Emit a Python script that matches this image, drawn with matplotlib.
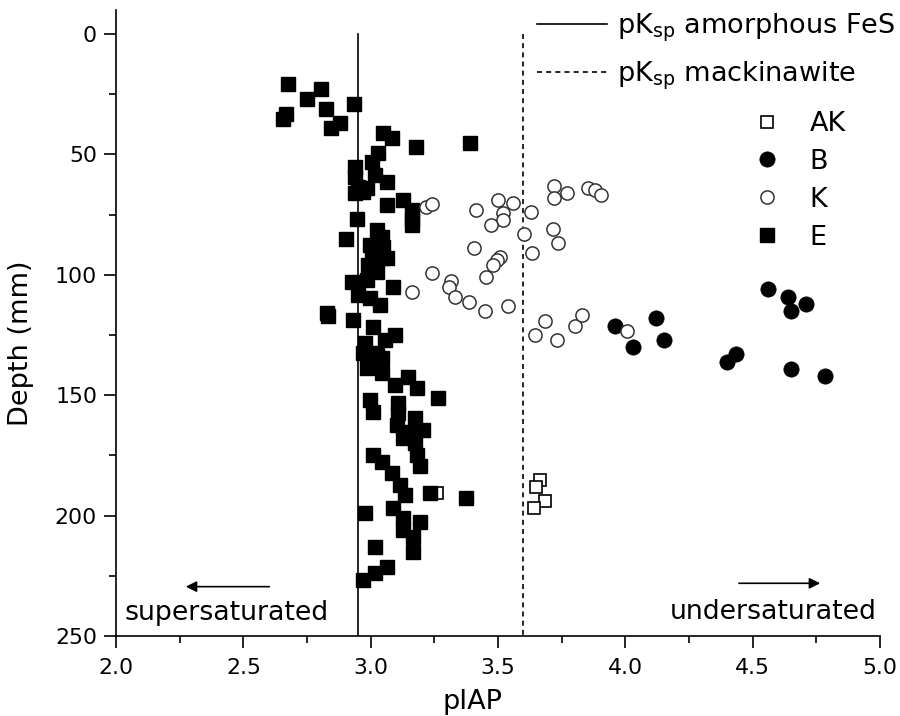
import matplotlib
matplotlib.use("Agg")
import matplotlib.pyplot as plt
from matplotlib.lines import Line2D
from matplotlib.ticker import MultipleLocator

plt.rcParams['font.family'] = ['DejaVu Sans']
plt.rcParams['mathtext.default'] = 'regular'

# solubility products (pK_sp)
pk_amorphous = 2.95
pk_mackinawite = 3.60

# AK
ak_x = [3.665, 3.649, 3.685, 3.641, 3.262]
ak_y = [185.2, 188.0, 194.0, 197.0, 190.8]

# B
b_x = [4.56, 4.64, 4.71, 4.65, 3.96, 4.03, 4.12, 4.15, 4.40, 4.435, 4.65, 4.785]
b_y = [105.9, 109.2, 112.0, 115.1, 121.2, 130.0, 118.0, 127.1, 136.2, 132.9, 139.1, 142.0]

# K
k_x = [3.217, 3.242, 3.415, 3.501, 3.560, 3.521, 3.521, 3.472, 3.630, 3.602,
       3.632, 3.720, 3.720, 3.772, 3.855, 3.881, 3.905, 3.717, 3.737, 3.405,
       3.508, 3.495, 3.481, 3.452, 3.240, 3.164, 3.314, 3.309, 3.331, 3.387,
       3.449, 3.540, 3.645, 3.685, 3.730, 3.802, 3.828, 4.005]
k_y = [71.9, 70.7, 73.1, 68.9, 70.1, 74.5, 77.2, 79.3, 74.1, 83.1,
       90.8, 63.0, 68.2, 66.2, 63.8, 64.8, 67.0, 81.0, 86.9, 89.0,
       92.5, 93.9, 95.9, 100.8, 99.1, 107.0, 102.6, 104.9, 109.1, 111.2,
       115.0, 113.0, 125.0, 119.1, 127.1, 121.1, 116.7, 123.3]

# E
e_x = [2.677, 2.805, 2.750, 2.825, 2.668, 2.655, 2.880, 2.843, 2.936,
       3.047, 3.083, 3.178, 3.390,
       3.030, 3.004, 2.938, 2.938, 3.017, 3.063, 2.984, 2.952, 2.938, 2.971,
       3.063, 3.128, 3.161, 3.161, 3.161, 2.945,
       2.903, 3.023, 3.043, 2.997, 3.004, 3.050, 3.043, 2.991, 3.023, 3.063,
       2.925, 2.984, 3.086, 2.952, 2.997, 3.037, 2.827, 2.834, 2.932,
       3.011, 3.095, 2.978, 3.056, 3.023, 2.971, 3.043, 2.984, 3.043, 3.148,
       3.095, 3.180, 3.266, 2.997, 3.011, 3.108, 3.108, 3.102, 3.174, 3.148,
       3.207, 3.128, 3.174, 3.011, 3.043, 3.180, 3.194, 3.083, 3.115, 3.135,
       3.233, 3.374, 3.089, 2.978, 3.128, 3.194, 3.128, 3.167, 3.017, 3.167,
       3.063, 3.017, 2.971]
e_y = [20.8, 23.0, 27.0, 31.1, 33.2, 35.3, 37.1, 39.2, 29.1,
       41.0, 43.0, 46.8, 45.4,
       49.5, 53.0, 55.1, 59.3, 58.6, 61.3, 64.1, 63.4, 66.2, 65.5,
       71.0, 68.9, 73.1, 77.0, 79.3, 77.0,
       85.3, 81.4, 84.2, 87.6, 89.7, 88.3, 93.1, 95.9, 98.7, 93.1,
       102.9, 102.2, 105.2, 108.4, 109.8, 112.5, 115.7, 117.0, 118.8,
       121.6, 125.0, 128.4, 127.1, 132.6, 132.6, 134.7, 138.5, 140.9, 142.3,
       145.8, 147.1, 151.3, 152.0, 156.8, 153.4, 157.5, 162.4, 159.6, 165.1,
       164.5, 167.9, 170.0, 174.8, 177.6, 174.8, 179.5, 182.4, 187.3, 191.4,
       190.7, 192.8, 197.0, 199.0, 201.1, 202.5, 206.0, 208.8, 212.9, 215.0,
       221.2, 224.0, 226.7]

fig = plt.figure(figsize=(9, 7.16), dpi=100)
ax = fig.add_axes([0.1289, 0.1117, 0.8489, 0.8745])

ax.plot([pk_amorphous, pk_amorphous], [0, 250], color='black', lw=1.2, zorder=1)
ax.plot([pk_mackinawite, pk_mackinawite], [0, 250], color='black', lw=1.2,
        linestyle=(0, (3, 2.5)), zorder=1)

ax.plot(ak_x, ak_y, 's', ms=9, mfc='white', mec='black', mew=1.2, zorder=2)
ax.plot(e_x, e_y, 's', ms=10.5, mfc='black', mec='black', mew=1, zorder=3)
ax.plot(b_x, b_y, 'o', ms=11, mfc='black', mec='black', mew=0.5, zorder=4)
ax.plot(k_x, k_y, 'o', ms=9.5, mfc='white', mec='#333333', mew=1.1, zorder=5)

ax.set_xlim(2.0, 5.0)
ax.set_ylim(250, -10)
ax.xaxis.set_minor_locator(MultipleLocator(0.25))
ax.yaxis.set_minor_locator(MultipleLocator(25))
ax.set_yticks([0, 50, 100, 150, 200, 250])
ax.set_xticks([2.0, 2.5, 3.0, 3.5, 4.0, 4.5, 5.0])
ax.set_xticklabels(['2.0', '2.5', '3.0', '3.5', '4.0', '4.5', '5.0'])

for s in ['top', 'right']:
    ax.spines[s].set_visible(False)
for s in ['left', 'bottom']:
    ax.spines[s].set_linewidth(1.2)
ax.tick_params(which='major', direction='out', length=8.6, width=1.2, labelsize=15.8)
ax.tick_params(which='minor', direction='out', length=5, width=1.2)
ax.tick_params(axis='x', pad=7)
ax.tick_params(axis='y', pad=5)

ax.set_xlabel('pIAP', fontsize=19.5)
ax.set_ylabel('Depth (mm)', fontsize=19.5)
ax.xaxis.set_label_coords(0.467, -0.085)
ax.yaxis.set_label_coords(-0.107, 0.467)

ax.annotate('', xy=(2.263, 229.5), xytext=(2.613, 229.5),
            arrowprops=dict(arrowstyle='-|>', color='black', lw=1.2, mutation_scale=16))
ax.annotate('', xy=(4.776, 228.1), xytext=(4.435, 228.1),
            arrowprops=dict(arrowstyle='-|>', color='black', lw=1.2, mutation_scale=16))
ax.text(2.035, 243.3, 'supersaturated', fontsize=19.3, ha='left', va='baseline')
ax.text(4.175, 243.0, 'undersaturated', fontsize=19.3, ha='left', va='baseline')

line_handles = [
    Line2D([], [], color='black', lw=1.2),
    Line2D([], [], color='black', lw=1.2, linestyle=(0, (3, 2.5))),
]
line_labels = [r'pK$_{sp}$ amorphous FeS', r'pK$_{sp}$ mackinawite']
leg1 = ax.legend(line_handles, line_labels, loc='upper left',
                 bbox_to_anchor=(537 / 900, 1 - 12 / 716), bbox_transform=fig.transFigure,
                 frameon=False, fontsize=19.5, borderpad=0, borderaxespad=0,
                 handlelength=2.6, handletextpad=0.35, labelspacing=0.56)
ax.add_artist(leg1)

mk_handles = [
    Line2D([], [], ls='none', marker='s', ms=9, mfc='white', mec='black', mew=1.2),
    Line2D([], [], ls='none', marker='o', ms=11, mfc='black', mec='black', mew=0.5),
    Line2D([], [], ls='none', marker='o', ms=9.5, mfc='white', mec='#333333', mew=1.1),
    Line2D([], [], ls='none', marker='s', ms=10.5, mfc='black', mec='black', mew=1),
]
ax.legend(mk_handles, ['AK', 'B', 'K', 'E'], loc='upper left',
          bbox_to_anchor=(753 / 900, 1 - 111 / 716), bbox_transform=fig.transFigure,
          frameon=False, fontsize=19.5, borderpad=0, borderaxespad=0,
          handlelength=1.0, handletextpad=1.1, labelspacing=0.44)

fig.savefig('out.png', dpi=100)
